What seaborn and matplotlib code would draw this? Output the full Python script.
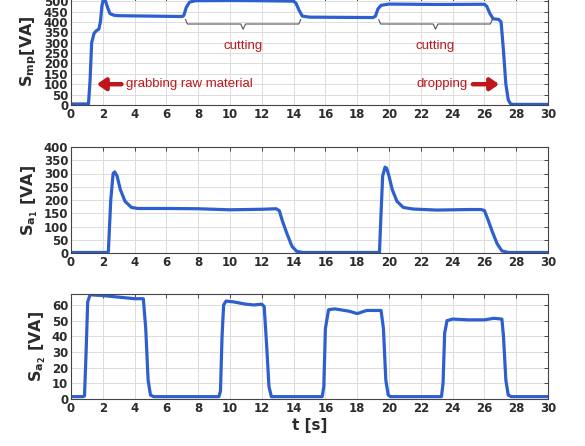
import numpy as np
import pandas as pd
import seaborn as sns
import matplotlib
matplotlib.use("Agg")
import matplotlib.pyplot as plt

# ---- data (breakpoints) ----
t_mp = [0, 1.0, 1.1, 1.2, 1.3, 1.45, 1.6, 1.75, 1.85, 1.95, 2.05, 2.15, 2.3, 2.45, 2.7, 3.0, 5.0, 7.0,
        7.1, 7.25, 7.45, 7.8, 10.0, 12.0, 14.0, 14.15, 14.35, 14.55, 15.0, 17.0, 19.0, 19.15, 19.3,
        19.5, 20.0, 23.0, 26.0, 26.15, 26.35, 26.55, 26.9, 27.05, 27.2, 27.35, 27.5, 27.65, 27.8, 30.0]
s_mp = [5, 5, 5, 120, 300, 345, 358, 365, 400, 480, 515, 505, 470, 440, 432, 430, 428, 426,
        432, 470, 495, 502, 503, 502, 500, 490, 455, 428, 423, 422, 421, 428, 462,
        480, 486, 484, 485, 475, 440, 415, 412, 400, 260, 100, 25, 5, 3, 3]

t_a1 = [0, 2.25, 2.35, 2.5, 2.65, 2.75, 2.9, 3.1, 3.4, 3.8, 4.2, 6.0, 8.0, 10.0, 12.0, 12.9, 13.1, 13.3,
        13.6, 13.9, 14.2, 14.6, 16.0, 19.4, 19.5, 19.6, 19.75, 19.85, 20.0, 20.2, 20.5, 20.9, 21.5, 23.0,
        25.0, 25.8, 26.0, 26.2, 26.5, 26.8, 27.1, 27.5, 30.0]
s_a1 = [2, 2, 5, 200, 300, 306, 290, 240, 195, 172, 168, 168, 167, 163, 165, 167, 160, 120,
        70, 25, 6, 2, 2, 2, 150, 290, 324, 320, 290, 240, 195, 172, 166, 162,
        164, 164, 160, 130, 80, 35, 8, 2, 2]

t_a2 = [0, 0.75, 0.85, 0.95, 1.05, 1.2, 2.0, 3.0, 4.0, 4.55, 4.7, 4.85, 5.0, 5.2, 7.0, 9.3, 9.4,
        9.5, 9.6, 9.75, 10.2, 11.0, 11.5, 12.0, 12.15, 12.3, 12.45, 12.6, 14.0, 15.8, 15.9, 16.0,
        16.2, 16.6, 17.5, 18.0, 18.6, 19.5, 19.65, 19.8, 19.95, 20.1, 22.0, 23.3, 23.4, 23.5,
        23.65, 24.0, 25.0, 26.0, 26.6, 27.1, 27.2, 27.35, 27.5, 27.7, 30.0]
s_a2 = [1.5, 1.5, 2, 30, 62, 66.5, 66, 65, 64, 64, 45, 12, 2.5, 1.5, 1.5, 1.5, 5,
        40, 60, 62.5, 62, 60.5, 60, 60.5, 59, 35, 8, 1.5, 1.5, 1.5, 8, 45,
        57, 57.5, 56, 54.5, 56.5, 56.5, 45, 12, 2.5, 1.5, 1.5, 1.5, 10, 42,
        50, 51, 50.5, 50.5, 51.5, 51, 40, 12, 2.5, 1.5, 1.5]

brace_spans = [(7.2, 14.45), (19.35, 26.5)]
brace_labels = ["cutting", "cutting"]

df_mp = pd.DataFrame({"t": t_mp, "S": s_mp})
df_a1 = pd.DataFrame({"t": t_a1, "S": s_a1})
df_a2 = pd.DataFrame({"t": t_a2, "S": s_a2})

sns.set_style("white")
plt.rcParams["mathtext.fontset"] = "dejavusans"

W, H = 585, 446
fig = plt.figure(figsize=(W / 100, H / 100), dpi=100)

def pos(top_px, bot_px):
    left = 71 / W
    right = 548 / W
    return [left, 1 - bot_px / H, right - left, (bot_px - top_px) / H]

ax1 = fig.add_axes(pos(-3, 105))
ax2 = fig.add_axes(pos(147, 253))
ax3 = fig.add_axes(pos(294, 399))

blue = "#2d5fcf"
tick_c = "#2b2b2b"
for ax, df, ylim, ystep, lab in [
    (ax1, df_mp, (0, 520), 50, r"$\mathbf{S}_{\mathbf{mp}}$[VA]"),
    (ax2, df_a1, (0, 400), 50, r"$\mathbf{S}_{\mathbf{a_1}}$ [VA]"),
    (ax3, df_a2, (0, 67), 10, r"$\mathbf{S}_{\mathbf{a_2}}$ [VA]"),
]:
    sns.lineplot(data=df, x="t", y="S", ax=ax, color=blue, linewidth=2.3, estimator=None, sort=False)
    ax.set_xlim(0, 30)
    ax.set_ylim(*ylim)
    ax.set_xticks(np.arange(0, 31, 2))
    ax.set_yticks(np.arange(0, ylim[1] + 0.1, ystep))
    ax.grid(True, color="#dcdcdc", linewidth=0.7)
    ax.set_axisbelow(True)
    for sp in ax.spines.values():
        sp.set_color("#444444")
        sp.set_linewidth(0.8)
    ax.tick_params(direction="in", length=3, width=0.7, color="#444444", top=True, right=True,
                   labelsize=8.5, labelcolor=tick_c, pad=2)
    for lbl in ax.get_xticklabels() + ax.get_yticklabels():
        lbl.set_fontweight("bold")
    ax.set_xlabel("")
    ax.set_ylabel(lab, fontsize=11.5, fontweight="bold", color=tick_c, labelpad=3)

ax3.set_xlabel("t [s]", fontsize=11, fontweight="bold", color=tick_c, labelpad=2)

# braces and labels
red = "#c0161b"
for (a, b), txt in zip(brace_spans, brace_labels):
    m = (a + b) / 2
    yb = 390
    ax1.plot([a, a + 0.12, m - 0.15, m, m + 0.15, b - 0.12, b],
             [412, yb, yb, 365, yb, yb, 412], color="#555555", linewidth=0.8)
    ax1.text(m, 285, txt, color=red, fontsize=9.5, ha="center", va="center", family="Liberation Sans")

ax1.annotate("", xy=(1.45, 100), xytext=(3.35, 100),
             arrowprops=dict(arrowstyle="-|>,head_length=0.5,head_width=0.35", color=red, lw=3.2))
ax1.text(3.45, 100, "grabbing raw material", color=red, fontsize=9.5, ha="left", va="center",
         family="Liberation Sans")
ax1.annotate("", xy=(27.1, 100), xytext=(25.1, 100),
             arrowprops=dict(arrowstyle="-|>,head_length=0.5,head_width=0.35", color=red, lw=3.2))
ax1.text(24.95, 100, "dropping", color=red, fontsize=9.5, ha="right", va="center",
         family="Liberation Sans")

fig.savefig("out.png", dpi=100)
